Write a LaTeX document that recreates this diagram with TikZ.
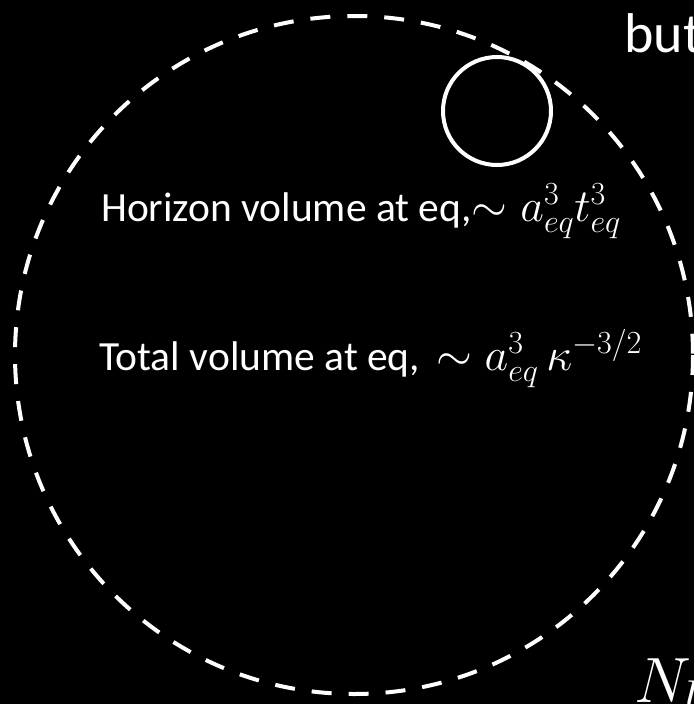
\RequirePackage{fix-cm}
\documentclass[tikz,border=0pt]{standalone}
\usepackage{amsmath}
\usepackage{fontspec}
\setmainfont{Carlito}

\newcommand{\bigmath}[1]{{\fontsize{46}{52}\selectfont$#1$}}

\begin{document}
\begin{tikzpicture}[x=1pt,y=-1pt]
  \tikzset{
    ring/.style={draw=white,line width=4pt},
    txt/.style={text=white,inner sep=0pt,anchor=base west,font=\fontsize{41.5}{48}\selectfont},
    big/.style={text=white,inner sep=0pt,anchor=base west,font=\fontsize{56}{64}\selectfont}
  }
  \fill[black] (0,0) rectangle (694,704);
  \useasboundingbox (0,0) rectangle (694,704);
  \clip (0,0) rectangle (694,704);
  \coordinate (O) at (354,355);
  \coordinate (P) at (497,111);
  \draw[ring,dash pattern=on 20pt off 17pt] (O) circle (339);
  \draw[ring] (P) circle (54);
  \node[txt] (hor) at (101,221) {Horizon volume at eq,\bigmath{\sim a_{eq}^3t_{eq}^3}};
  \node[txt] (tot) at (99,370) {Total volume at eq,\hspace{16pt}\bigmath{\sim a_{eq}^3\,\kappa^{-3/2}}};
  \node[big] (but) at (624,52) {but};
  \node[big] (nu) at (634,702) {\fontsize{64}{72}\selectfont$N_U$};
\end{tikzpicture}
\end{document}
